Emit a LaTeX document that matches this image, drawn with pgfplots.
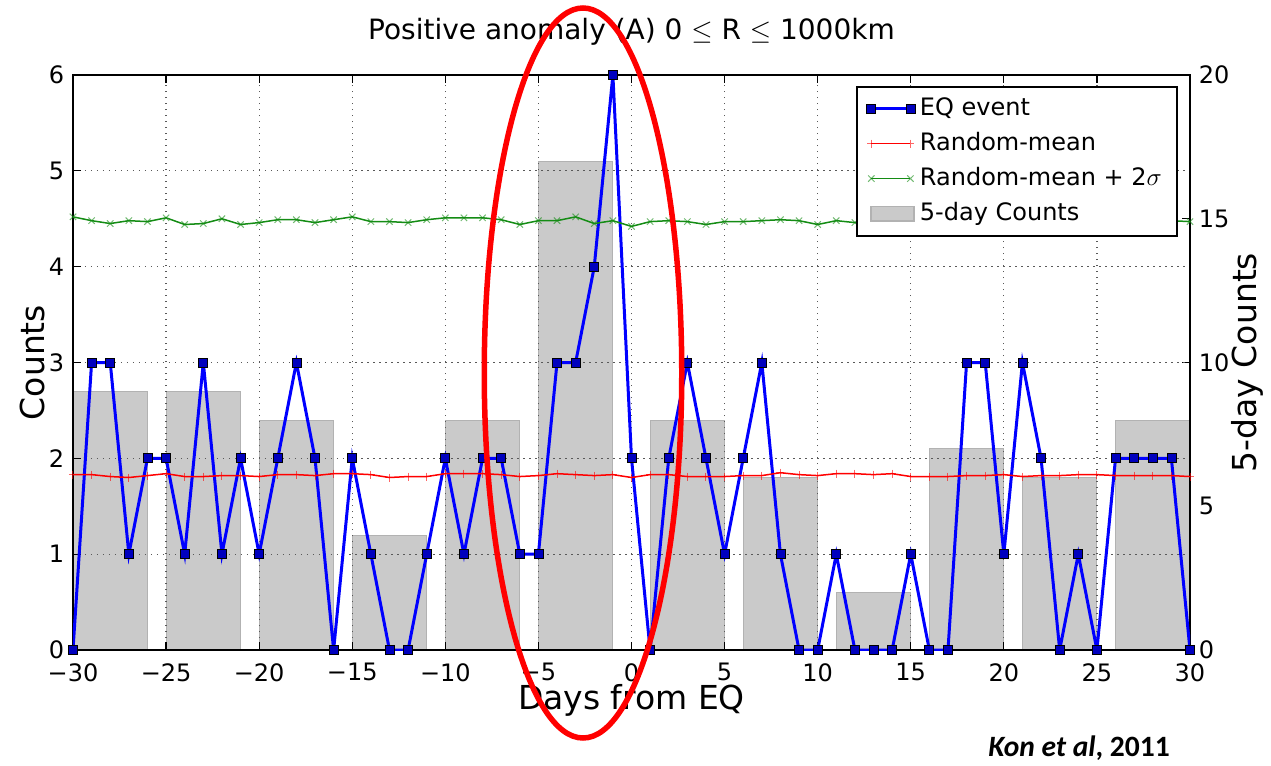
\documentclass[border=0pt]{standalone}
\usepackage{pgfplots}
\pgfplotsset{compat=1.18}
\usepackage{fontspec}
\setmainfont{DejaVu Sans}
\newfontfamily\carlito{Carlito}
\definecolor{barfill}{RGB}{202,202,202}
\definecolor{baredge}{RGB}{178,178,178}
\definecolor{mplgreen}{RGB}{20,140,20}
\definecolor{markblue}{RGB}{0,0,190}
\begin{document}
\begin{tikzpicture}
\useasboundingbox (-29.2pt,-46pt) rectangle (479.2pt,260pt);
% right axis: 5-day counts (bars)
\begin{axis}[
  at={(0pt,0pt)}, anchor=south west,
  scale only axis, width=446.8pt, height=230pt,
  xmin=-30, xmax=30, ymin=0, ymax=20,
  hide x axis,
  ytick={0,5,10,15,20},
  yticklabels={0,5,10,15,20},
  ytick pos=right, yticklabel pos=right,
  tick align=inside,
  major tick length=3.2pt,
  tick style={black, line width=0.5pt},
  axis line style={line width=0.8pt},
  ticklabel style={font=\fontsize{9.6}{11}\selectfont},
  ylabel={5-day Counts},
  ylabel style={at={(axis description cs:1.051,0.5)}, anchor=center, font=\fontsize{13.2}{15}\selectfont},
]
\addplot[ybar, bar width=4, bar shift=0pt, fill=barfill, draw=baredge, line width=0.4pt] coordinates {
(-28,9) (-23,9) (-18,8) (-13,4) (-8,8) (-3,17) (3,8) (8,6) (13,2) (18,7) (23,6) (28,8)};
\end{axis}
% left axis: daily counts
\begin{axis}[
  at={(0pt,0pt)}, anchor=south west,
  scale only axis, width=446.8pt, height=230pt,
  xmin=-30, xmax=30, ymin=0, ymax=6,
  xtick={-30,-25,...,30},
  xticklabels={−30,−25,−20,−15,−10,−5,0,5,10,15,20,25,30},
  ytick={0,1,2,3,4,5,6},
  yticklabels={0,1,2,3,4,5,6},
  ytick pos=left, xtick pos=both,
  tick align=inside,
  major tick length=3.2pt,
  tick style={black, line width=0.5pt},
  axis line style={line width=0.8pt},
  grid=major,
  grid style={black!65, dash pattern=on 0.6pt off 1.8pt, line width=0.5pt},
  ticklabel style={font=\fontsize{9.6}{11}\selectfont},
  xticklabel style={yshift=-1.8pt},
  xlabel={Days from EQ},
  xlabel style={at={(axis description cs:0.5,-0.087)}, anchor=center, font=\fontsize{13.2}{15}\selectfont},
  ylabel={Counts},
  ylabel style={at={(axis description cs:-0.036,0.5)}, anchor=center, font=\fontsize{13.2}{15}\selectfont},
  title={Positive anomaly (A) 0 $\leq$ R $\leq$ 1000km},
  title style={at={(axis description cs:0.5,1.049)}, anchor=center, font=\fontsize{11.2}{13}\selectfont},
  legend image code/.code={\draw[mark repeat=1,mark phase=1,#1] plot coordinates {(0cm,0cm) (0.55cm,0cm)};},
  legend style={at={(0.989,0.981)}, anchor=north east, draw=black, line width=0.7pt, fill=white,
    font=\fontsize{9.6}{11.5}\selectfont, row sep=1.2pt, inner xsep=4pt, inner ysep=2.5pt,
    /tikz/every even column/.append style={column sep=5pt}},
  legend cell align=left,
]
\addplot[blue, line width=1.2pt, mark=square*, mark size=1.8pt, mark options={fill=markblue, draw=black, line width=0.3pt}] coordinates {
(-30,0) (-29,3) (-28,3) (-27,1) (-26,2) (-25,2) (-24,1) (-23,3) (-22,1) (-21,2)
(-20,1) (-19,2) (-18,3) (-17,2) (-16,0) (-15,2) (-14,1) (-13,0) (-12,0) (-11,1)
(-10,2) (-9,1) (-8,2) (-7,2) (-6,1) (-5,1) (-4,3) (-3,3) (-2,4) (-1,6)
(0,2) (1,0) (2,2) (3,3) (4,2) (5,1) (6,2) (7,3) (8,1) (9,0)
(10,0) (11,1) (12,0) (13,0) (14,0) (15,1) (16,0) (17,0) (18,3) (19,3)
(20,1) (21,3) (22,2) (23,0) (24,1) (25,0) (26,2) (27,2) (28,2) (29,2) (30,0)};
\addlegendentry{EQ event}
\addplot[red, line width=0.6pt, mark=+, mark size=1.6pt, mark options={line width=0.4pt, opacity=0.6}] coordinates {
(-30,1.83) (-29,1.83) (-28,1.81) (-27,1.80) (-26,1.82) (-25,1.84) (-24,1.81) (-23,1.81) (-22,1.82) (-21,1.82)
(-20,1.81) (-19,1.83) (-18,1.83) (-17,1.82) (-16,1.84) (-15,1.84) (-14,1.83) (-13,1.80) (-12,1.81) (-11,1.81)
(-10,1.84) (-9,1.84) (-8,1.84) (-7,1.83) (-6,1.81) (-5,1.82) (-4,1.84) (-3,1.83) (-2,1.82) (-1,1.83)
(0,1.80) (1,1.83) (2,1.83) (3,1.81) (4,1.81) (5,1.81) (6,1.82) (7,1.82) (8,1.85) (9,1.83)
(10,1.82) (11,1.84) (12,1.84) (13,1.83) (14,1.84) (15,1.81) (16,1.81) (17,1.81) (18,1.82) (19,1.82)
(20,1.83) (21,1.81) (22,1.82) (23,1.82) (24,1.83) (25,1.83) (26,1.82) (27,1.82) (28,1.82) (29,1.82) (30,1.81)};
\addlegendentry{Random-mean}
\addplot[mplgreen, line width=0.6pt, mark=x, mark size=1.8pt, mark options={line width=0.4pt, opacity=0.6}] coordinates {
(-30,4.52) (-29,4.48) (-28,4.45) (-27,4.48) (-26,4.47) (-25,4.51) (-24,4.44) (-23,4.45) (-22,4.50) (-21,4.44)
(-20,4.46) (-19,4.49) (-18,4.49) (-17,4.46) (-16,4.49) (-15,4.52) (-14,4.47) (-13,4.47) (-12,4.46) (-11,4.49)
(-10,4.51) (-9,4.51) (-8,4.51) (-7,4.49) (-6,4.44) (-5,4.48) (-4,4.48) (-3,4.52) (-2,4.45) (-1,4.48)
(0,4.42) (1,4.47) (2,4.48) (3,4.47) (4,4.44) (5,4.47) (6,4.47) (7,4.48) (8,4.49) (9,4.48)
(10,4.44) (11,4.48) (12,4.46) (13,4.48) (14,4.47) (15,4.45) (16,4.47) (17,4.48) (18,4.49) (19,4.46)
(20,4.47) (21,4.44) (22,4.46) (23,4.48) (24,4.47) (25,4.45) (26,4.47) (27,4.48) (28,4.46) (29,4.48) (30,4.47)};
\addlegendentry{Random-mean + 2$\sigma$}
\addlegendimage{area legend, fill=barfill, draw=baredge}
\addlegendentry{5-day Counts}
\end{axis}
% annotation ellipse and citation
\draw[red, line width=2.2pt] (204pt,110.8pt) ellipse [x radius=39.5pt, y radius=146pt];
\node[font=\carlito\bfseries\fontsize{11.8}{14}\selectfont, anchor=center] at (402.4pt,-39.2pt) {\itshape Kon et al\upshape, 2011};
\end{tikzpicture}
\end{document}
